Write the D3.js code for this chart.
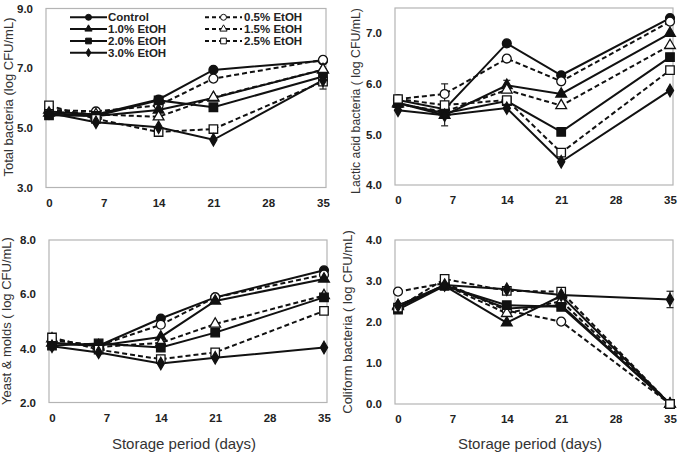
<!DOCTYPE html>
<html><head><meta charset="utf-8">
<script src="https://cdn.jsdelivr.net/npm/d3@7"></script>
<style>
html,body{margin:0;padding:0;background:#fff;}
svg{display:block;}
</style></head>
<body>
<svg id="chart" width="678" height="453"></svg>
<script>
// ---------- data ----------
const days = [0, 6, 14, 21, 35];
const xTicks = [0, 7, 14, 21, 28, 35];
const seriesNames = ["Control", "0.5% EtOH", "1.0% EtOH", "1.5% EtOH", "2.0% EtOH", "2.5% EtOH", "3.0% EtOH"];
const seriesShape = ["circle", "circle", "triangle", "triangle", "square", "square", "diamond"];
const seriesOpen = [false, true, false, true, false, true, false];

const totalBacteria = [
  [5.55, 5.45, 5.95, 6.94, 7.25],
  [5.60, 5.55, 5.75, 6.65, 7.28],
  [5.50, 5.40, 5.60, 6.00, 6.95],
  [5.60, 5.45, 5.37, 6.02, 6.95],
  [5.42, 5.40, 5.92, 5.69, 6.72],
  [5.75, 5.30, 4.86, 4.96, 6.55],
  [5.50, 5.19, 5.02, 4.60, 6.60]
];
const lacticBacteria = [
  [5.68, 5.50, 6.80, 6.17, 7.30],
  [5.70, 5.80, 6.50, 6.05, 7.23],
  [5.62, 5.38, 5.97, 5.80, 7.00],
  [5.60, 5.45, 5.88, 5.57, 6.76],
  [5.62, 5.42, 5.66, 5.05, 6.53],
  [5.70, 5.58, 5.68, 4.64, 6.27],
  [5.48, 5.38, 5.52, 4.46, 5.87]
];
const yeastMolds = [
  [4.20, 4.10, 5.10, 5.88, 6.88],
  [4.30, 4.10, 4.87, 5.88, 6.72],
  [4.20, 4.10, 4.42, 5.75, 6.56],
  [4.35, 4.05, 4.20, 4.90, 5.95],
  [4.10, 4.18, 4.03, 4.58, 5.88],
  [4.40, 3.95, 3.60, 3.85, 5.38],
  [4.08, 3.85, 3.44, 3.65, 4.03]
];
const coliform = [
  [2.35, 2.90, 2.33, 2.41, 0],
  [2.74, 2.95, 2.28, 2.01, 0],
  [2.40, 2.88, 1.98, 2.64, 0],
  [2.38, 2.90, 2.21, 2.51, 0],
  [2.30, 2.88, 2.41, 2.37, 0],
  [2.35, 3.05, 2.76, 2.74, 0],
  [2.40, 2.90, 2.80, 2.66, 2.55]
];
// error bars: [series index, day index, +/- value]
const totalErr = [[5, 4, 0.25]];
const lacticErr = [[1, 1, 0.2], [2, 1, 0.21], [2, 2, 0.1]];
const yeastErr = [];
const coliformErr = [[6, 4, 0.2]];

const totalTicks = [3, 5, 7, 9];
const lacticTicks = [4, 5, 6, 7];
const yeastTicks = [2, 4, 6, 8];
const coliformTicks = [0, 1, 2, 3, 4];

// ---------- layout ----------
const panels = [
  {values: totalBacteria, err: totalErr, ticks: totalTicks, domain: [3, 9], title: "Total bacteria (log CFU/mL)",
   x0: 46, x1: 326, y0: 8.5, y1: 187.5, titleX: 8, titleY: 97, titleSize: 13, xTitle: false, legend: true},
  {values: lacticBacteria, err: lacticErr, ticks: lacticTicks, domain: [4, 7.5], title: "Lactic acid bacteria ( log CFU/mL)",
   x0: 395, x1: 673, y0: 8, y1: 185, titleX: 356, titleY: 101, titleSize: 12.3, xTitle: false},
  {values: yeastMolds, err: yeastErr, ticks: yeastTicks, domain: [2, 8], title: "Yeast & molds ( log CFU/mL)",
   x0: 49, x1: 327, y0: 240, y1: 402.5, titleX: 6, titleY: 321, titleSize: 13, xTitle: true},
  {values: coliform, err: coliformErr, ticks: coliformTicks, domain: [0, 4], title: "Coliform bacteria ( log CFU/mL)",
   x0: 395, x1: 673, y0: 240, y1: 404, titleX: 347, titleY: 322, titleSize: 13, xTitle: true}
];

const svg = d3.select("#chart");
const FONT = "'Liberation Sans', Arial, sans-serif";

function symbolFor(shape, scale) {
  const map = {circle: [d3.symbolCircle, 62], triangle: [d3.symbolTriangle, 50], square: [d3.symbolSquare, 72], diamond: [d3.symbolDiamond, 44]};
  const [t, s] = map[shape];
  return d3.symbol().type(t).size(s * scale)();
}

panels.forEach(p => {
  const g = svg.append("g");
  const x = d3.scaleLinear().domain([0, 35]).range([p.x0 + 3, p.x1 - 3]);
  const y = d3.scaleLinear().domain(p.domain).range([p.y1, p.y0]);

  g.append("rect").attr("x", p.x0).attr("y", p.y0).attr("width", p.x1 - p.x0).attr("height", p.y1 - p.y0)
    .attr("fill", "none").attr("stroke", "#b4b4b4").attr("stroke-width", 1.2);

  const xa = g.append("g").attr("transform", `translate(0,${p.y1})`)
    .call(d3.axisBottom(x).tickValues(xTicks).tickSize(0).tickPadding(11).tickFormat(d3.format("d")));
  xa.select(".domain").remove();
  xa.selectAll("text").attr("font-family", FONT).attr("font-weight", "bold").attr("font-size", 11.5).attr("fill", "#222");

  const ya = g.append("g").attr("transform", `translate(${p.x0},0)`)
    .call(d3.axisLeft(y).tickValues(p.ticks).tickSize(0).tickPadding(13).tickFormat(d3.format(".1f")));
  ya.select(".domain").remove();
  ya.selectAll("text").attr("font-family", FONT).attr("font-weight", "bold").attr("font-size", 11.5).attr("fill", "#222");

  g.append("text")
    .attr("transform", `translate(${p.titleX},${p.titleY}) rotate(-90)`)
    .attr("text-anchor", "middle").attr("dominant-baseline", "central")
    .attr("font-family", FONT).attr("font-size", p.titleSize).attr("fill", "#333")
    .text(p.title);

  if (p.xTitle) {
    g.append("text")
      .attr("x", (p.x0 + p.x1) / 2 - 4).attr("y", 449)
      .attr("text-anchor", "middle")
      .attr("font-family", FONT).attr("font-size", 15).attr("fill", "#333")
      .text("Storage period (days)");
  }

  const line = d3.line().x((d, i) => x(days[i])).y(d => y(d));

  p.values.forEach((vals, si) => {
    g.append("path").datum(vals).attr("d", line)
      .attr("fill", "none").attr("stroke", "#111").attr("stroke-width", 2)
      .attr("stroke-dasharray", seriesOpen[si] ? "5,3" : null);
  });
  p.err.forEach(([si, di, e]) => {
    const cx = x(days[di]), v = p.values[si][di];
    const eg = g.append("g").attr("stroke", "#222").attr("stroke-width", 1.2);
    eg.append("line").attr("x1", cx).attr("x2", cx).attr("y1", y(v - e)).attr("y2", y(v + e));
    eg.append("line").attr("x1", cx - 3.5).attr("x2", cx + 3.5).attr("y1", y(v - e)).attr("y2", y(v - e));
    eg.append("line").attr("x1", cx - 3.5).attr("x2", cx + 3.5).attr("y1", y(v + e)).attr("y2", y(v + e));
  });
  p.values.forEach((vals, si) => {
    g.selectAll(null).data(vals).enter().append("path")
      .attr("d", symbolFor(seriesShape[si], 1))
      .attr("transform", (d, i) => `translate(${x(days[i])},${y(d)})`)
      .attr("fill", seriesOpen[si] ? "#fff" : "#111")
      .attr("stroke", "#111").attr("stroke-width", 1.3);
  });

  if (p.legend) {
    const rowsY = [17.3, 29, 41, 52.7];
    const cols = [
      {idx: [0, 2, 4, 6], lx0: 70, lx1: 107, tx: 108},
      {idx: [1, 3, 5], lx0: 205, lx1: 242, tx: 244}
    ];
    cols.forEach(c => {
      c.idx.forEach((si, r) => {
        const yy = rowsY[r];
        g.append("line").attr("x1", c.lx0).attr("x2", c.lx1).attr("y1", yy).attr("y2", yy)
          .attr("stroke", "#111").attr("stroke-width", 2)
          .attr("stroke-dasharray", seriesOpen[si] ? "4,3" : null);
        g.append("path").attr("d", symbolFor(seriesShape[si], 0.45))
          .attr("transform", `translate(${(c.lx0 + c.lx1) / 2},${yy})`)
          .attr("fill", seriesOpen[si] ? "#fff" : "#111").attr("stroke", "#111").attr("stroke-width", 1);
        g.append("text").attr("x", c.tx).attr("y", yy).attr("dominant-baseline", "central")
          .attr("font-family", FONT).attr("font-weight", "bold").attr("font-size", 11.5).attr("fill", "#222")
          .text(seriesNames[si]);
      });
    });
  }
});
</script>
</body></html>
